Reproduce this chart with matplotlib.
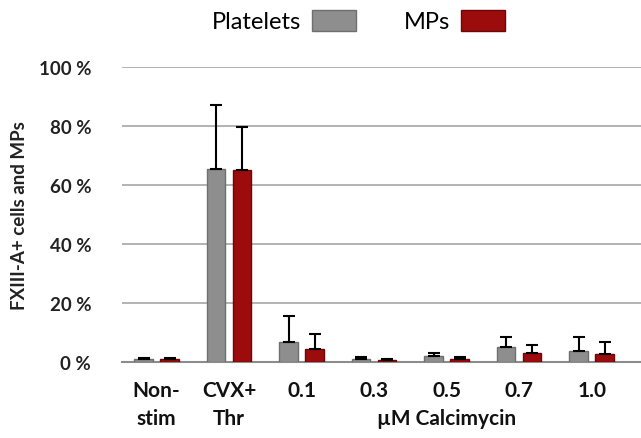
import matplotlib.pyplot as plt
import numpy as np

plt.rcParams['font.family'] = ['Lato', 'DejaVu Sans']

groups = ['Non-\nstim', 'CVX+\nThr', '0.1', '0.3', '0.5', '0.7', '1.0']
platelets = [1.0, 65.5, 6.6, 0.9, 1.8, 4.9, 3.7]
platelets_err = [0.3, 21.5, 8.8, 0.8, 1.2, 3.4, 4.6]
mps = [1.0, 65.0, 4.3, 0.7, 1.0, 3.0, 2.6]
mps_err = [0.2, 14.5, 5.1, 0.3, 0.4, 2.7, 4.0]
yticks = [0, 20, 40, 60, 80, 100]

fig = plt.figure(figsize=(6.41, 4.39), dpi=100)
ax = fig.add_axes([0.19, 0.174, 0.81, 0.671])

x = np.arange(len(groups))
w = 0.255
off = 0.18

ax.bar(x - off, platelets, w, color='#8e8e8e', edgecolor='#6f6f6f', linewidth=1.0,
       label='Platelets', zorder=3)
ax.bar(x + off, mps, w, color='#9c0c0c', edgecolor='#6e0606', linewidth=1.0,
       label='MPs', zorder=3)
ax.errorbar(x - off, platelets, yerr=[np.zeros(len(x)), platelets_err], fmt='none',
            ecolor='black', elinewidth=1.5, capsize=4, capthick=1.5, zorder=4)
ax.errorbar(x + off, mps, yerr=[np.zeros(len(x)), mps_err], fmt='none',
            ecolor='black', elinewidth=1.5, capsize=4, capthick=1.5, zorder=4)

ax.set_ylim(0, 100)
ax.set_xlim(-0.48, 6.68)
ax.set_yticks(yticks)
ax.set_yticklabels([f'{v} %' for v in yticks], fontsize=13.5, fontweight='bold', color='#222222')
ax.tick_params(axis='y', length=0, pad=22)
ax.set_xticks(x)
ax.set_xticklabels(groups, fontsize=15, fontweight='bold', color='#111111', linespacing=1.55)
ax.tick_params(axis='x', length=0, pad=13)
# label for the calcimycin doses, on the second label line
ax.text(4, -0.193, 'µM Calcimycin', transform=ax.get_xaxis_transform(),
        ha='center', va='center', fontsize=15, fontweight='bold', color='#111111')

ax.grid(axis='y', color='#a6a6a6', linewidth=1.2, zorder=0)
for s in ['top', 'right', 'left']:
    ax.spines[s].set_visible(False)
ax.spines['bottom'].set_color('#8c8c8c')
ax.spines['bottom'].set_linewidth(1.5)

ax.set_ylabel('FXIII-A+ cells and MPs', fontsize=13.5, fontweight='bold', color='#222222',
              labelpad=8)

ax.legend(loc='center', bbox_to_anchor=(0.456, 1.156), ncol=2, frameon=False,
          markerfirst=False, fontsize=17, handlelength=1.9, handleheight=1.0,
          columnspacing=2.0, handletextpad=0.45)

fig.savefig('out.png', dpi=100)
